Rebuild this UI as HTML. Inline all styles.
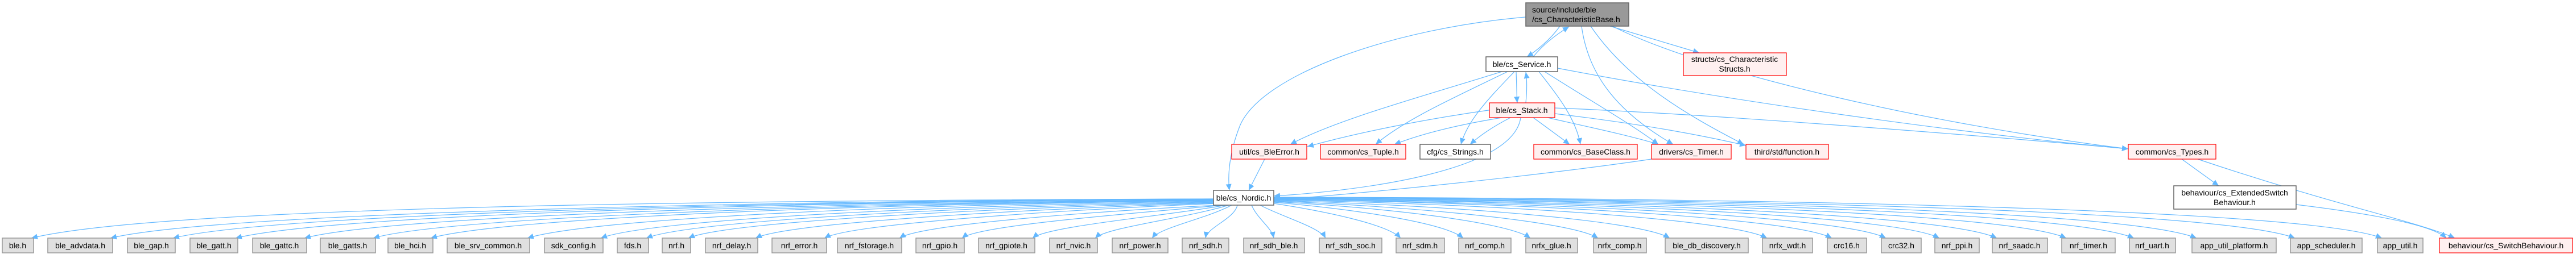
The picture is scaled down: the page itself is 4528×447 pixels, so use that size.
<!DOCTYPE html>
<html><head><meta charset="utf-8"><style>
html,body{margin:0;padding:0;background:#fff;}
svg{display:block;}
text{font-family:"Liberation Sans",sans-serif;font-size:14px;fill:#000;}
.g{fill:#e0e0e0;stroke:#999;stroke-width:1.5}
.r{fill:#fff0f0;stroke:#f00;stroke-width:1.2}
.w{fill:#fff;stroke:#666;stroke-width:1.5}
.m{fill:#999;stroke:#666;stroke-width:1.5}
.e{fill:none;stroke:#63b8ff;stroke-width:1.2;marker-end:url(#a)}
</style></head><body>
<svg width="4528" height="447" viewBox="0 0 4528 447" xmlns="http://www.w3.org/2000/svg">
<defs><marker id="a" markerUnits="userSpaceOnUse" markerWidth="12" markerHeight="10" refX="11" refY="5" orient="auto"><path d="M0,0 L11,5 L0,10 z" fill="#63b8ff"/></marker></defs>

<!-- upper edges -->
<path class="e" d="M2742,46 C2725,70 2700,90 2684,100"/>
<path class="e" d="M2695,100 C2715,75 2740,58 2758,47"/>
<path class="e" d="M2682,30 C2450,50 2220,130 2180,220 C2160,270 2158,310 2161,335"/>
<path class="e" d="M2830,46 L2987,93"/>
<path class="e" d="M2780,46 C2790,120 2830,190 2941,254"/>
<path class="e" d="M2796,46 C2860,140 2960,200 3065,254"/>
<path class="e" d="M2834,46 C3000,130 3400,220 3741,262"/>
<path class="e" d="M2665,126 C2666,150 2666,170 2667,181"/>
<path class="e" d="M2682,181 C2684,160 2684,140 2682,127"/>
<path class="e" d="M2640,126 C2500,170 2350,210 2268,254"/>
<path class="e" d="M2630,192 C2500,210 2380,235 2298,258"/>
<path class="e" d="M2650,126 C2560,170 2470,210 2418,254"/>
<path class="e" d="M2640,207 C2560,220 2500,235 2451,254"/>
<path class="e" d="M2662,126 C2620,170 2580,210 2568,254"/>
<path class="e" d="M2655,207 C2620,225 2600,240 2584,254"/>
<path class="e" d="M2705,126 C2740,170 2770,210 2778,254"/>
<path class="e" d="M2695,207 C2720,225 2740,240 2759,254"/>
<path class="e" d="M2715,126 C2800,180 2870,220 2915,254"/>
<path class="e" d="M2720,207 C2800,225 2870,240 2915,254"/>
<path class="e" d="M2733,200 C2900,220 3000,240 3069,256"/>
<path class="e" d="M2738,120 C3000,170 3400,230 3741,262"/>
<path class="e" d="M2733,190 C3000,200 3500,240 3741,262"/>
<path class="e" d="M2673,207 C2660,300 2400,335 2239,345"/>
<path class="e" d="M2903,280 C2700,310 2400,340 2239,352"/>
<path class="e" d="M2223,280 L2195,335"/>
<path class="e" d="M3835,280 L3900,327"/>
<path class="e" d="M3863,280 C4100,360 4250,390 4315,419"/>
<path class="e" d="M4036,360 C4200,380 4280,400 4300,419"/>

<!-- Nordic fan-out -->
<path class="e" d="M2140,350 C1400,352 300,360 55,419"/>
<path class="e" d="M2140,350 C1500,352 400,370 194,419"/>
<path class="e" d="M2140,351 C1500,353 500,372 304,419"/>
<path class="e" d="M2140,351 C1500,354 600,374 414,419"/>
<path class="e" d="M2140,352 C1550,355 700,376 535,419"/>
<path class="e" d="M2140,352 C1600,356 800,378 656,419"/>
<path class="e" d="M2140,353 C1600,357 900,380 757,419"/>
<path class="e" d="M2140,353 C1650,358 1050,382 927,419"/>
<path class="e" d="M2140,354 C1700,360 1150,384 1056,419"/>
<path class="e" d="M2140,355 C1750,362 1220,386 1136,419"/>
<path class="e" d="M2140,356 C1800,364 1280,388 1210,419"/>
<path class="e" d="M2140,357 C1850,366 1390,390 1328,419"/>
<path class="e" d="M2140,358 C1900,368 1500,392 1449,419"/>
<path class="e" d="M2145,361 C1950,370 1620,394 1581,419"/>
<path class="e" d="M2150,361 C2000,375 1720,396 1691,419"/>
<path class="e" d="M2155,361 C2050,380 1840,398 1815,419"/>
<path class="e" d="M2160,361 C2080,385 1945,400 1925,419"/>
<path class="e" d="M2165,361 C2120,385 2040,400 2025,419"/>
<path class="e" d="M2175,361 C2170,385 2122,400 2119,419"/>
<path class="e" d="M2200,361 C2210,385 2235,400 2239,419"/>
<path class="e" d="M2215,361 C2250,380 2320,400 2330,419"/>
<path class="e" d="M2239,358 C2330,372 2440,395 2462,419"/>
<path class="e" d="M2239,356 C2380,368 2540,392 2572,419"/>
<path class="e" d="M2239,355 C2420,364 2650,390 2690,419"/>
<path class="e" d="M2239,354 C2460,362 2760,388 2809,419"/>
<path class="e" d="M2239,353 C2520,360 2880,386 2935,419"/>
<path class="e" d="M2239,352 C2600,358 3040,384 3106,419"/>
<path class="e" d="M2239,351 C2650,356 3150,382 3220,419"/>
<path class="e" d="M2239,351 C2700,355 3240,380 3315,419"/>
<path class="e" d="M2239,350 C2750,354 3330,378 3409,419"/>
<path class="e" d="M2239,350 C2800,353 3420,376 3510,419"/>
<path class="e" d="M2239,349 C2850,352 3530,374 3632,419"/>
<path class="e" d="M2239,349 C2900,351 3640,372 3751,419"/>
<path class="e" d="M2239,348 C2950,350 3740,370 3861,419"/>
<path class="e" d="M2239,348 C3000,349 3900,368 4034,419"/>
<path class="e" d="M2239,347 C3050,348 4050,366 4187,419"/>

<!-- upper nodes -->
<rect class="m" x="2682" y="5" width="181" height="41"/>
<text x="2693" y="22">source/include/ble</text>
<text x="2693" y="39">/cs_CharacteristicBase.h</text>
<rect class="w" x="2612" y="100" width="126" height="26"/>
<text x="2675" y="118" text-anchor="middle">ble/cs_Service.h</text>
<rect class="r" x="2959" y="93" width="181" height="40"/>
<text x="3049" y="109" text-anchor="middle">structs/cs_Characteristic</text>
<text x="3049" y="126" text-anchor="middle">Structs.h</text>
<rect class="r" x="2618" y="181" width="115" height="26"/>
<text x="2675" y="199" text-anchor="middle">ble/cs_Stack.h</text>
<rect class="r" x="2165" y="254" width="132" height="26"/>
<text x="2231" y="272" text-anchor="middle">util/cs_BleError.h</text>
<rect class="r" x="2321" y="254" width="150" height="26"/>
<text x="2396" y="272" text-anchor="middle">common/cs_Tuple.h</text>
<rect class="w" x="2496" y="254" width="124" height="26"/>
<text x="2558" y="272" text-anchor="middle">cfg/cs_Strings.h</text>
<rect class="r" x="2696" y="254" width="182" height="26"/>
<text x="2787" y="272" text-anchor="middle">common/cs_BaseClass.h</text>
<rect class="r" x="2903" y="254" width="140" height="26"/>
<text x="2973" y="272" text-anchor="middle">drivers/cs_Timer.h</text>
<rect class="r" x="3069" y="254" width="145" height="26"/>
<text x="3141" y="272" text-anchor="middle">third/std/function.h</text>
<rect class="r" x="3741" y="254" width="154" height="26"/>
<text x="3818" y="272" text-anchor="middle">common/cs_Types.h</text>
<rect class="w" x="3821" y="327" width="215" height="41"/>
<text x="3928" y="344" text-anchor="middle">behaviour/cs_ExtendedSwitch</text>
<text x="3928" y="361" text-anchor="middle">Behaviour.h</text>
<rect class="w" x="2133" y="335" width="106" height="26"/>
<text x="2186" y="353" text-anchor="middle">ble/cs_Nordic.h</text>

<!-- bottom row -->
<g>
<rect class="g" x="4" y="419" width="55" height="26"/><text x="31" y="437" text-anchor="middle">ble.h</text>
<rect class="g" x="84" y="419" width="114" height="26"/><text x="141" y="437" text-anchor="middle">ble_advdata.h</text>
<rect class="g" x="224" y="419" width="84" height="26"/><text x="266" y="437" text-anchor="middle">ble_gap.h</text>
<rect class="g" x="334" y="419" width="84" height="26"/><text x="376" y="437" text-anchor="middle">ble_gatt.h</text>
<rect class="g" x="444" y="419" width="95" height="26"/><text x="491" y="437" text-anchor="middle">ble_gattc.h</text>
<rect class="g" x="563" y="419" width="97" height="26"/><text x="611" y="437" text-anchor="middle">ble_gatts.h</text>
<rect class="g" x="682" y="419" width="79" height="26"/><text x="721" y="437" text-anchor="middle">ble_hci.h</text>
<rect class="g" x="786" y="419" width="145" height="26"/><text x="858" y="437" text-anchor="middle">ble_srv_common.h</text>
<rect class="g" x="957" y="419" width="103" height="26"/><text x="1008" y="437" text-anchor="middle">sdk_config.h</text>
<rect class="g" x="1085" y="419" width="55" height="26"/><text x="1112" y="437" text-anchor="middle">fds.h</text>
<rect class="g" x="1164" y="419" width="50" height="26"/><text x="1189" y="437" text-anchor="middle">nrf.h</text>
<rect class="g" x="1240" y="419" width="92" height="26"/><text x="1286" y="437" text-anchor="middle">nrf_delay.h</text>
<rect class="g" x="1357" y="419" width="96" height="26"/><text x="1405" y="437" text-anchor="middle">nrf_error.h</text>
<rect class="g" x="1472" y="419" width="113" height="26"/><text x="1528" y="437" text-anchor="middle">nrf_fstorage.h</text>
<rect class="g" x="1610" y="419" width="85" height="26"/><text x="1652" y="437" text-anchor="middle">nrf_gpio.h</text>
<rect class="g" x="1720" y="419" width="99" height="26"/><text x="1769" y="437" text-anchor="middle">nrf_gpiote.h</text>
<rect class="g" x="1845" y="419" width="84" height="26"/><text x="1887" y="437" text-anchor="middle">nrf_nvic.h</text>
<rect class="g" x="1955" y="419" width="98" height="26"/><text x="2004" y="437" text-anchor="middle">nrf_power.h</text>
<rect class="g" x="2078" y="419" width="82" height="26"/><text x="2119" y="437" text-anchor="middle">nrf_sdh.h</text>
<rect class="g" x="2186" y="419" width="107" height="26"/><text x="2239" y="437" text-anchor="middle">nrf_sdh_ble.h</text>
<rect class="g" x="2319" y="419" width="110" height="26"/><text x="2374" y="437" text-anchor="middle">nrf_sdh_soc.h</text>
<rect class="g" x="2454" y="419" width="85" height="26"/><text x="2496" y="437" text-anchor="middle">nrf_sdm.h</text>
<rect class="g" x="2564" y="419" width="92" height="26"/><text x="2610" y="437" text-anchor="middle">nrf_comp.h</text>
<rect class="g" x="2682" y="419" width="91" height="26"/><text x="2727" y="437" text-anchor="middle">nrfx_glue.h</text>
<rect class="g" x="2801" y="419" width="93" height="26"/><text x="2847" y="437" text-anchor="middle">nrfx_comp.h</text>
<rect class="g" x="2927" y="419" width="146" height="26"/><text x="3000" y="437" text-anchor="middle">ble_db_discovery.h</text>
<rect class="g" x="3098" y="419" width="88" height="26"/><text x="3142" y="437" text-anchor="middle">nrfx_wdt.h</text>
<rect class="g" x="3212" y="419" width="69" height="26"/><text x="3246" y="437" text-anchor="middle">crc16.h</text>
<rect class="g" x="3307" y="419" width="70" height="26"/><text x="3342" y="437" text-anchor="middle">crc32.h</text>
<rect class="g" x="3401" y="419" width="78" height="26"/><text x="3440" y="437" text-anchor="middle">nrf_ppi.h</text>
<rect class="g" x="3502" y="419" width="97" height="26"/><text x="3550" y="437" text-anchor="middle">nrf_saadc.h</text>
<rect class="g" x="3624" y="419" width="94" height="26"/><text x="3671" y="437" text-anchor="middle">nrf_timer.h</text>
<rect class="g" x="3743" y="419" width="81" height="26"/><text x="3783" y="437" text-anchor="middle">nrf_uart.h</text>
<rect class="g" x="3853" y="419" width="148" height="26"/><text x="3927" y="437" text-anchor="middle">app_util_platform.h</text>
<rect class="g" x="4026" y="419" width="126" height="26"/><text x="4089" y="437" text-anchor="middle">app_scheduler.h</text>
<rect class="g" x="4179" y="419" width="80" height="26"/><text x="4219" y="437" text-anchor="middle">app_util.h</text>
<rect class="r" x="4288" y="419" width="234" height="26"/><text x="4405" y="437" text-anchor="middle">behaviour/cs_SwitchBehaviour.h</text>
</g>
</svg>
</body></html>
